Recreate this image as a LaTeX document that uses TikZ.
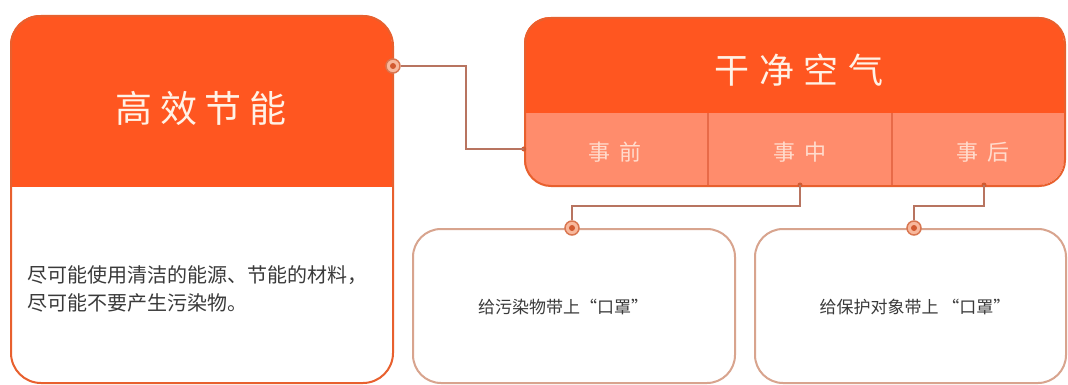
\documentclass[tikz,border=0pt]{standalone}
\usepackage{fontspec}
\newfontfamily\cjk{Noto Sans CJK SC}
\newfontfamily\cjkbig[LetterSpace=20]{Noto Sans CJK SC}
\newfontfamily\cjkmid[LetterSpace=28]{Noto Sans CJK SC}
\newfontfamily\cjkcell[LetterSpace=45]{Noto Sans CJK SC}
\usetikzlibrary{calc}
\definecolor{hdr}{HTML}{FF5620}
\definecolor{cellc}{HTML}{FF8C6C}
\definecolor{divc}{HTML}{E86A48}
\definecolor{edgec}{HTML}{E8602E}
\definecolor{lboxc}{HTML}{D8A48E}
\definecolor{wirec}{HTML}{B87460}
\definecolor{celltxt}{HTML}{FFDCCD}
\definecolor{titletxt}{HTML}{FFF2E6}
\definecolor{bodytxt}{HTML}{3A3A3A}
\definecolor{portfill}{HTML}{F8B89C}
\definecolor{portedge}{HTML}{D97650}
\definecolor{portdot}{HTML}{D25A30}
\tikzset{
  bigbox/.style={draw=edgec, line width=2pt, rounded corners=30pt, inner sep=0pt, anchor=north west},
  smallbox/.style={draw=lboxc, line width=2pt, rounded corners=28pt, inner sep=0pt, anchor=north west, fill=white},
  cellnode/.style={inner sep=0pt, minimum height=72pt},
  celllabel/.style={text=celltxt, font=\cjkcell\fontsize{22}{22}\selectfont, inner sep=0pt},
  wire/.style={draw=wirec, line width=1.5pt},
  port/.style={circle, minimum size=14pt, inner sep=0pt, fill=portfill, draw=portedge, line width=1.5pt,
    path picture={\fill[portdot] (path picture bounding box.center) circle (3pt);}},
  nub/.style={circle, minimum size=5pt, inner sep=0pt, fill=portdot},
  bodytext/.style={text=bodytxt, inner sep=0pt}
}
\begin{document}
\begin{tikzpicture}[x=1pt,y=-1pt]
\useasboundingbox (0,0) rectangle (1068,385);
\fill[white] (0,0) rectangle (1068,385);

% ---- left box: 高效节能
\begin{scope}
  \clip[rounded corners=30pt] (10,15) rectangle (392,382);
  \fill[hdr] (10,15) rectangle (392,187);
\end{scope}
\node[bigbox, minimum width=382pt, minimum height=367pt] (eff) at (10,15) {};
\node[text=titletxt, font=\cjkbig\fontsize{37}{37}\selectfont, inner sep=0pt] (effT) at (201,108) {高效节能};
\node[bodytext, anchor=west, align=left, font=\cjk\fontsize{20}{28}\selectfont] (effB) at (27,289)
  {尽可能使用清洁的能源、节能的材料，\\尽可能不要产生污染物。};

% ---- right box: 干净空气
\begin{scope}
  \clip[rounded corners=26pt] (524,17) rectangle (1064,185);
  \fill[hdr] (524,17) rectangle (1064,185);
  \fill[cellc] (524,113) rectangle (1064,185);
\end{scope}
\draw[divc, line width=1.2pt] (708,113) -- (708,185) (892,113) -- (892,185);
\node[bigbox, rounded corners=26pt, minimum width=540pt, minimum height=168pt] (fresh) at (524,17) {};
\node[text=titletxt, font=\cjkmid\fontsize{35}{35}\selectfont, inner sep=0pt] (freshT) at (799,70) {干净空气};
\node[cellnode, minimum width=184pt] (pre) at (616,149) {};
\node[cellnode, minimum width=184pt] (mid) at (800,149) {};
\node[cellnode, minimum width=172pt] (post) at (978,149) {};
\node[celllabel] (preT) at (615,152) {事前};
\node[celllabel] (midT) at (800,152) {事中};
\node[celllabel] (postT) at (983,152) {事后};

% ---- bottom boxes
\node[smallbox, minimum width=322pt, minimum height=154pt] (mask1) at (412,228) {};
\node[smallbox, minimum width=311pt, minimum height=154pt] (mask2) at (754,228) {};
\node[bodytext, font=\cjk\fontsize{17}{17}\selectfont] (mask1T) at (563,307) {给污染物带上“口罩”};
\node[bodytext, font=\cjk\fontsize{17}{17}\selectfont] (mask2T) at (915,307) {给保护对象带上 “口罩”};

% ---- ports
\node[port] (c1) at (393,66) {};
\node[port] (c2) at (572,228) {};
\node[port] (c3) at (914,228) {};
\coordinate (midS) at (800,185);
\coordinate (postS) at (984,185);
\node[nub] at (pre.west) {};
\node[nub] at (midS) {};
\node[nub] at (postS) {};

% ---- connectors
\draw[wire] (c1) -- ++(73,0) |- (pre.west);
\draw[wire] (midS) -- ++(0,21) -| (c2);
\draw[wire] (postS) -- ++(0,21) -| (c3);
\end{tikzpicture}
\end{document}
